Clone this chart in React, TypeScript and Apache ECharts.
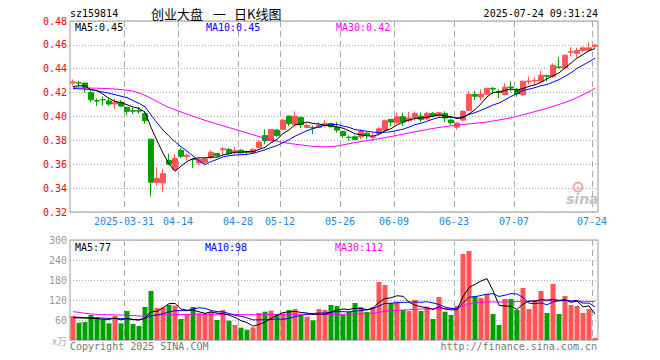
import React, { useEffect, useRef } from 'react';
import * as echarts from 'echarts';

const dates = [
  '2025-03-18','2025-03-19','2025-03-20','2025-03-21','2025-03-24','2025-03-25','2025-03-26','2025-03-27','2025-03-28','2025-03-31',
  '2025-04-01','2025-04-02','2025-04-03','2025-04-07','2025-04-08','2025-04-09','2025-04-10','2025-04-11','2025-04-14','2025-04-15',
  '2025-04-16','2025-04-17','2025-04-18','2025-04-21','2025-04-22','2025-04-23','2025-04-24','2025-04-25','2025-04-28','2025-04-29',
  '2025-04-30','2025-05-06','2025-05-07','2025-05-08','2025-05-09','2025-05-12','2025-05-13','2025-05-14','2025-05-15','2025-05-16',
  '2025-05-19','2025-05-20','2025-05-21','2025-05-22','2025-05-23','2025-05-26','2025-05-27','2025-05-28','2025-05-29','2025-05-30',
  '2025-06-03','2025-06-04','2025-06-05','2025-06-06','2025-06-09','2025-06-10','2025-06-11','2025-06-12','2025-06-13','2025-06-16',
  '2025-06-17','2025-06-18','2025-06-19','2025-06-20','2025-06-23','2025-06-24','2025-06-25','2025-06-26','2025-06-27','2025-06-30',
  '2025-07-01','2025-07-02','2025-07-03','2025-07-04','2025-07-07','2025-07-08','2025-07-09','2025-07-10','2025-07-11','2025-07-14',
  '2025-07-15','2025-07-16','2025-07-17','2025-07-18','2025-07-21','2025-07-22','2025-07-23','2025-07-24'
];

const opens = [
  0.428,0.4282,0.428,0.420,0.4132,0.4142,0.413,0.4105,0.412,0.4077,
  0.4048,0.405,0.4023,0.381,0.3448,0.3444,0.3633,0.3555,0.3717,0.3665,
  0.3642,0.361,0.3617,0.3656,0.369,0.3722,0.3724,0.3696,0.3718,0.3705,
  0.3696,0.374,0.3841,0.3797,0.3886,0.3892,0.4003,0.3931,0.3992,0.3908,
  0.3908,0.3908,0.3925,0.3942,0.3908,0.3875,0.3826,0.383,0.383,0.3858,
  0.3825,0.3858,0.3886,0.3976,0.3948,0.3998,0.3965,0.3987,0.4003,0.3981,
  0.4026,0.4009,0.4026,0.397,0.391,0.397,0.4051,0.4185,0.4163,0.4186,
  0.4236,0.4211,0.4183,0.4248,0.4228,0.4183,0.4292,0.4298,0.4295,0.4343,
  0.4334,0.4415,0.4407,0.4539,0.453,0.4553,0.4558,0.4587
];
const closes = [
  0.429,0.428,0.4245,0.414,0.413,0.414,0.4104,0.412,0.4087,0.4043,
  0.4045,0.4045,0.3967,0.345,0.3482,0.3522,0.360,0.365,0.3667,0.3675,
  0.3638,0.364,0.3645,0.3701,0.3673,0.3729,0.369,0.3713,0.3696,0.3701,
  0.3724,0.3785,0.3797,0.3892,0.3841,0.397,0.3942,0.4003,0.3931,0.3925,
  0.3903,0.3925,0.3942,0.3914,0.3886,0.3841,0.3824,0.3808,0.3875,0.3841,
  0.383,0.3897,0.3965,0.3953,0.3998,0.3953,0.3987,0.4026,0.3976,0.4026,
  0.4003,0.4032,0.3987,0.3948,0.3945,0.4043,0.4186,0.417,0.4186,0.4236,
  0.423,0.420,0.4245,0.4242,0.4188,0.4295,0.4297,0.4303,0.4345,0.4338,
  0.4429,0.4411,0.4513,0.4543,0.4553,0.4575,0.4575,0.4597
];
const lows = [
  0.426,0.425,0.420,0.412,0.409,0.409,0.409,0.406,0.408,0.401,
  0.4023,0.4023,0.394,0.333,0.3421,0.3365,0.3595,0.3555,0.365,0.3634,
  0.3567,0.359,0.360,0.3645,0.3665,0.3679,0.3675,0.3679,0.369,0.3684,
  0.3685,0.3735,0.3768,0.3795,0.383,0.389,0.392,0.3919,0.3903,0.3903,
  0.3852,0.3903,0.3908,0.3908,0.3864,0.3819,0.3797,0.3802,0.381,0.3813,
  0.3797,0.3841,0.387,0.3919,0.3942,0.3919,0.3953,0.3965,0.3953,0.397,
  0.3992,0.3998,0.3953,0.3931,0.389,0.3959,0.4046,0.4138,0.4133,0.418,
  0.4188,0.4155,0.4177,0.4211,0.4166,0.4171,0.4267,0.4267,0.4284,0.4295,
  0.4323,0.4402,0.4396,0.4502,0.4497,0.4536,0.4541,0.4575
];
const highs = [
  0.431,0.430,0.4285,0.4225,0.415,0.4166,0.415,0.415,0.4138,0.408,
  0.4074,0.408,0.404,0.381,0.3575,0.3561,0.369,0.3684,0.3738,0.3687,
  0.3645,0.3655,0.366,0.3715,0.3695,0.3746,0.3735,0.3746,0.3725,0.3713,
  0.3735,0.380,0.3892,0.3895,0.3895,0.3975,0.401,0.4043,0.400,0.3942,
  0.3925,0.395,0.397,0.3948,0.3953,0.3878,0.3841,0.3841,0.3892,0.387,
  0.3864,0.391,0.3975,0.3978,0.4032,0.4032,0.4037,0.4043,0.4032,0.4037,
  0.4037,0.4035,0.4043,0.3981,0.395,0.4054,0.4212,0.4212,0.4228,0.424,
  0.4245,0.4228,0.4278,0.4295,0.4239,0.4301,0.4334,0.4329,0.4385,0.4351,
  0.4446,0.4497,0.4515,0.4581,0.4575,0.4587,0.462,0.4608
];
const volumes = [
  72,52,54,75,68,62,50,72,50,87,
  48,42,99,147,96,98,105,103,63,78,
  99,80,80,85,60,90,58,45,37,31,
  38,81,85,88,78,80,90,93,72,70,
  59,93,90,105,102,75,85,111,99,84,
  99,174,165,111,115,90,87,120,87,100,
  63,129,85,75,102,258,267,132,126,138,
  78,45,123,123,90,156,93,120,147,81,
  168,78,132,105,102,81,93,6
];

const ma5Head = [0.4250, 0.4258, 0.4255, 0.4225];
const ma10Head = [0.4234, 0.4232, 0.4230, 0.4225, 0.4215, 0.4205, 0.4195, 0.4183, 0.4170];
const ma30Price = [
  0.4240,0.4240,0.4239,0.4238,0.4237,0.4235,0.4233,0.4230,0.4226,0.4220,
  0.4212,0.4198,0.4178,0.4152,0.4125,0.4098,0.4076,0.4056,0.4038,0.4020,
  0.4002,0.3985,0.3968,0.3952,0.3937,0.3922,0.3907,0.3892,0.3877,0.3862,
  0.3847,0.3832,0.3818,0.3805,0.3793,0.3783,0.3775,0.3768,0.3762,0.3756,
  0.3750,0.3747,0.3746,0.3748,0.3753,0.3762,0.3772,0.3782,0.3790,0.3798,
  0.3806,0.3814,0.3823,0.3832,0.3842,0.3852,0.3862,0.3872,0.3882,0.3891,
  0.3900,0.3908,0.3915,0.3921,0.3927,0.3933,0.3938,0.3943,0.3948,0.3954,
  0.3962,0.3971,0.3980,0.3990,0.4002,0.4015,0.4028,0.4041,0.4055,0.4070,
  0.4085,0.4101,0.4118,0.4137,0.4158,0.4182,0.4208,0.4236
];
const volMa5Head = [67, 66, 66, 65];
const volMa10Head = [68, 68, 67, 67, 66, 66, 65, 65, 64];
const volMa30 = [
  85,83,80,78,77,76,76,75,75,74,
  73,72,72,73,74,75,76,76,77,77,
  77,77,77,77,77,77,77,77,76,76,
  76,76,76,76,76,76,76,77,77,77,
  77,77,77,77,77,77,78,78,79,80,
  80,83,86,88,89,90,91,92,93,93,
  94,94,94,94,95,102,108,111,113,114,
  114,114,114,115,115,116,116,117,117,118,
  118,118,118,117,117,116,116,115
];

const tickDates = ['2025-03-31','2025-04-14','2025-04-28','2025-05-12','2025-05-26','2025-06-09','2025-06-23','2025-07-07','2025-07-24'];

const UP = '#ff5555';
const DOWN = '#00a000';
const MONO = '"DejaVu Sans Mono", monospace';

function movingAvg(vals: number[], n: number, head: number[]) {
  return vals.map((_, i) => {
    if (i < n - 1) return head[i];
    let s = 0;
    for (let k = i - n + 1; k <= i; k++) s += vals[k];
    return +(s / n).toFixed(4);
  });
}

function txt(x: number, y: number, text: string, fill: string, extra: any = {}) {
  const align = extra.align || 'left';
  return {
    type: 'text', x, y, silent: true, z: 100,
    style: {
      text, fill, font: extra.font || `10px ${MONO}`,
      align, textAlign: align, verticalAlign: 'middle', textVerticalAlign: 'middle',
    },
  };
}

export default function App() {
  const ref = useRef<HTMLDivElement>(null);
  useEffect(() => {
    if (!ref.current) return;
    const chart = echarts.init(ref.current, null, { renderer: 'svg' });
    const boundaries = [...dates, 'end'];
    const tickIdx = tickDates.map(d => dates.indexOf(d));
    const isTick = (i: number) => tickIdx.indexOf(i) >= 0;
    const splitLine = { show: true, interval: (i: number) => isTick(i), lineStyle: { color: '#aaa', type: [6, 4], width: 1 } };
    const hSplit = { show: true, lineStyle: { color: '#aaa', type: [1, 2], width: 1 } };

    const candle = opens.map((o, i) => [o, closes[i], lows[i], highs[i]]);
    const ma5 = movingAvg(closes, 5, ma5Head);
    const ma10 = movingAvg(closes, 10, ma10Head);
    const vma5 = movingAvg(volumes, 5, volMa5Head);
    const vma10 = movingAvg(volumes, 10, volMa10Head);
    const volData = volumes.map((v, i) => ({ value: v, itemStyle: { color: closes[i] >= opens[i] ? UP : DOWN } }));

    const lineS = (data: number[], color: string, xi: number, yi: number) => ({
      type: 'line', xAxisIndex: xi, yAxisIndex: yi, data, showSymbol: false, symbol: 'none', silent: true,
      lineStyle: { color, width: 1 }, z: 5,
    });

    chart.setOption({
      animation: false,
      backgroundColor: '#fff',
      grid: [
        { left: 70, top: 21, width: 528, height: 191, show: true, borderColor: '#999', borderWidth: 1, backgroundColor: 'transparent' },
        { left: 70, top: 240, width: 528, height: 100, show: true, borderColor: '#999', borderWidth: 1, backgroundColor: 'transparent' },
      ],
      xAxis: [
        { type: 'category', gridIndex: 0, data: dates, boundaryGap: true, show: false },
        {
          type: 'category', gridIndex: 0, data: boundaries, boundaryGap: false, position: 'bottom',
          axisLine: { show: false }, axisTick: { show: false },
          axisLabel: {
            interval: (i: number) => isTick(i), margin: 4, color: '#1a8be0', fontSize: 10, fontFamily: MONO,
            formatter: (v: string, i: number) => (i === tickIdx[0] ? v : v.slice(5)),
          },
          splitLine,
        },
        { type: 'category', gridIndex: 1, data: dates, boundaryGap: true, show: false },
        {
          type: 'category', gridIndex: 1, data: boundaries, boundaryGap: false, position: 'bottom',
          axisLine: { show: false }, axisTick: { show: false }, axisLabel: { show: false },
          splitLine,
        },
      ],
      yAxis: [
        {
          type: 'value', gridIndex: 0, min: 0.32, max: 0.48, interval: 0.02,
          axisLine: { show: false }, axisTick: { show: false },
          axisLabel: { color: '#ff0000', fontSize: 10, fontFamily: MONO, margin: 3, formatter: (v: number) => v.toFixed(2) },
          splitLine: hSplit,
        },
        {
          type: 'value', gridIndex: 1, min: 0, max: 300, interval: 60,
          axisLine: { show: false }, axisTick: { show: false },
          axisLabel: {
            color: '#999', fontSize: 10, fontFamily: MONO, margin: 3,
            formatter: (v: number) => (v === 0 ? '{u|x万}' : String(v)),
            rich: { u: { color: '#b0b0b0', fontSize: 10, fontFamily: '"Noto Sans CJK SC", sans-serif' } },
          },
          splitLine: hSplit,
        },
      ],
      series: [
        {
          type: 'candlestick', xAxisIndex: 0, yAxisIndex: 0, data: candle, barWidth: 5, silent: true,
          itemStyle: { color: UP, color0: DOWN, borderColor: UP, borderColor0: DOWN, borderWidth: 1 },
        },
        lineS(ma30Price, '#ff00ff', 0, 0),
        lineS(ma10, '#0000ff', 0, 0),
        lineS(ma5, '#000000', 0, 0),
        { type: 'bar', xAxisIndex: 2, yAxisIndex: 1, data: volData, barWidth: 5, silent: true },
        lineS(volMa30, '#ff00ff', 2, 1),
        lineS(vma10, '#0000ff', 2, 1),
        lineS(vma5, '#000000', 2, 1),
      ],
      graphic: [
        txt(70, 13, 'sz159814', '#000'),
        txt(151, 13, '创业大盘', '#000', { font: '13px "Noto Sans CJK SC"' }),
        txt(213, 13, '一', '#000', { font: '13px "Noto Sans CJK SC"' }),
        txt(234, 13, '日K线图', '#000', { font: '13px "Noto Sans CJK SC"' }),
        txt(598, 13, '2025-07-24 09:31:24', '#000', { align: 'right' }),
        txt(75, 27, 'MA5:0.45', '#000'),
        txt(206, 27, 'MA10:0.45', '#0000ff'),
        txt(336, 27, 'MA30:0.42', '#ff00ff'),
        txt(75, 247, 'MA5:77', '#000'),
        txt(205, 247, 'MA10:98', '#0000ff'),
        txt(335, 247, 'MA30:112', '#ff00ff'),
        txt(70, 346, 'Copyright 2025 SINA.COM', '#777'),
        txt(597, 346, 'http://finance.sina.com.cn', '#777', { align: 'right' }),
        { type: 'circle', silent: true, z: 90, shape: { cx: 578, cy: 187, r: 4.5 }, style: { fill: 'none', stroke: '#f4a8a8', lineWidth: 2 } },
        { type: 'circle', silent: true, z: 90, shape: { cx: 578, cy: 188, r: 1.5 }, style: { fill: '#f4a8a8' } },
        txt(566, 199, 'sina', '#c4c4c4', { font: 'italic bold 14px "DejaVu Sans"' }),
      ],
    });
    return () => chart.dispose();
  }, []);
  return <div ref={ref} style={{ position: 'fixed', left: 0, top: 0, width: 660, height: 360, background: '#fff' }} />;
}
